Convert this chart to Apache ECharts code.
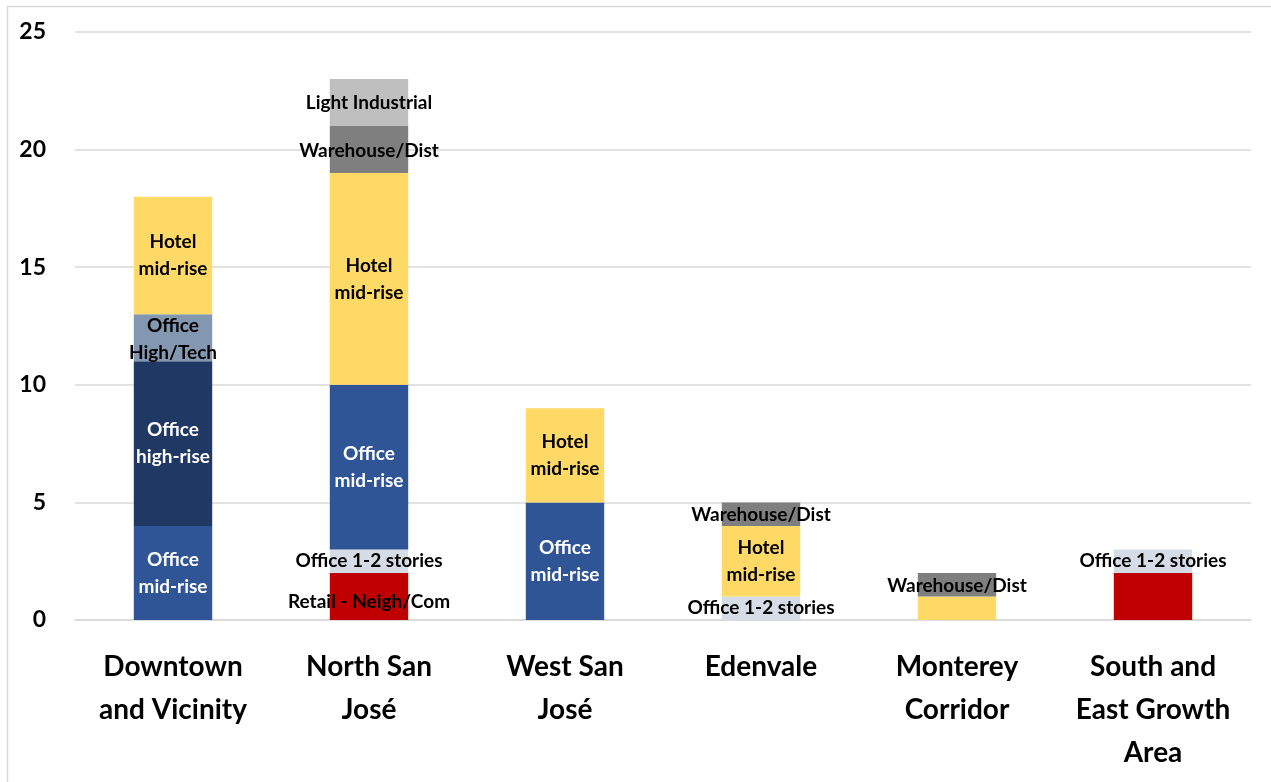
<!DOCTYPE html>
<html>
<head>
<meta charset="utf-8">
<script src="https://cdn.jsdelivr.net/npm/echarts@6/dist/echarts.min.js"></script>
<style>
  html, body { margin: 0; padding: 0; background: #fff; }
  #chart { width: 1271px; height: 782px; }
</style>
</head>
<body>
<div id="chart"></div>
<script>
// Planning areas along the x axis
const areas = [
  'Downtown\nand Vicinity',
  'North San\nJosé',
  'West San\nJosé',
  'Edenvale',
  'Monterey\nCorridor',
  'South and\nEast Growth\nArea'
];

// Y axis ticks
const yTicks = [0, 5, 10, 15, 20, 25];

// Land-use types, bottom of the stack first
const useNames = [
  'Retail - Neigh/Com',
  'Office 1-2 stories',
  'Office mid-rise',
  'Office high-rise',
  'Office High/Tech',
  'Hotel mid-rise',
  'Warehouse/Dist',
  'Light Industrial'
];

// Text written on each segment
const useLabels = [
  'Retail - Neigh/Com',
  'Office 1-2 stories',
  'Office\nmid-rise',
  'Office\nhigh-rise',
  'Office\nHigh/Tech',
  'Hotel\nmid-rise',
  'Warehouse/Dist',
  'Light Industrial'
];

// Values per land-use type, one per area
const retail        = [0, 2, 0, 0, 0, 2];
const office12      = [0, 1, 0, 1, 0, 1];
const officeMid     = [4, 7, 5, 0, 0, 0];
const officeHigh    = [7, 0, 0, 0, 0, 0];
const officeTech    = [2, 0, 0, 0, 0, 0];
const hotel         = [5, 9, 4, 3, 1, 0];
const warehouse     = [0, 2, 0, 1, 1, 0];
const lightIndustry = [0, 2, 0, 0, 0, 0];

// Segments drawn without text: [use index, area index]
const unlabeled = [[0, 5], [5, 4]];

const useValues = [retail, office12, officeMid, officeHigh, officeTech, hotel, warehouse, lightIndustry];
const useColors = ['#C00000', '#D6DCE5', '#2F5597', '#203864', '#8497B0', '#FFD966', '#7F7F7F', '#BFBFBF'];
const labelColors = ['#000', '#000', '#fff', '#fff', '#000', '#000', '#000', '#000'];
// Small vertical nudges for a few stacked labels (pixels)
const labelShift = [5, 0, 0, 0, 2, 0, 1, 0];

const FONT = 'Lato, "Open Sans", "DejaVu Sans", sans-serif';

const series = useNames.map((name, s) => ({
  name: name,
  type: 'bar',
  stack: 'total',
  barWidth: '40%',
  itemStyle: { color: useColors[s] },
  label: {
    show: true,
    position: 'inside',
    offset: [0, labelShift[s]],
    formatter: useLabels[s],
    color: labelColors[s],
    fontFamily: FONT,
    fontWeight: 'bold',
    fontSize: 19,
    lineHeight: 27
  },
  emphasis: { disabled: true },
  data: useValues[s].map((v, c) => {
    if (!v) return null;
    const hide = unlabeled.some(p => p[0] === s && p[1] === c);
    return hide ? { value: v, label: { show: false } } : v;
  })
}));

const chart = echarts.init(document.getElementById('chart'));
chart.setOption({
  animation: false,
  backgroundColor: '#fff',
  graphic: [{
    type: 'rect',
    shape: { x: 7.5, y: 6.5, width: 1300, height: 800 },
    style: { fill: 'none', stroke: '#D9D9D9', lineWidth: 1.5 },
    silent: true,
    z: -1
  }],
  grid: { left: 75, right: 20, top: 32, bottom: 162, containLabel: false },
  xAxis: {
    type: 'category',
    data: areas,
    axisLine: { show: true, lineStyle: { color: '#D9D9D9', width: 1.5 } },
    axisTick: { show: false },
    axisLabel: {
      interval: 0,
      margin: 25,
      color: '#000',
      fontFamily: FONT,
      fontWeight: 'bold',
      fontSize: 28,
      lineHeight: 43
    }
  },
  yAxis: {
    type: 'value',
    min: yTicks[0],
    max: yTicks[yTicks.length - 1],
    interval: yTicks[1] - yTicks[0],
    axisLine: { show: false },
    axisTick: { show: false },
    splitLine: { lineStyle: { color: '#D9D9D9', width: 1.5 } },
    axisLabel: {
      margin: 29,
      color: '#000',
      fontFamily: FONT,
      fontWeight: 'bold',
      fontSize: 23
    }
  },
  series: series
});
</script>
</body>
</html>
